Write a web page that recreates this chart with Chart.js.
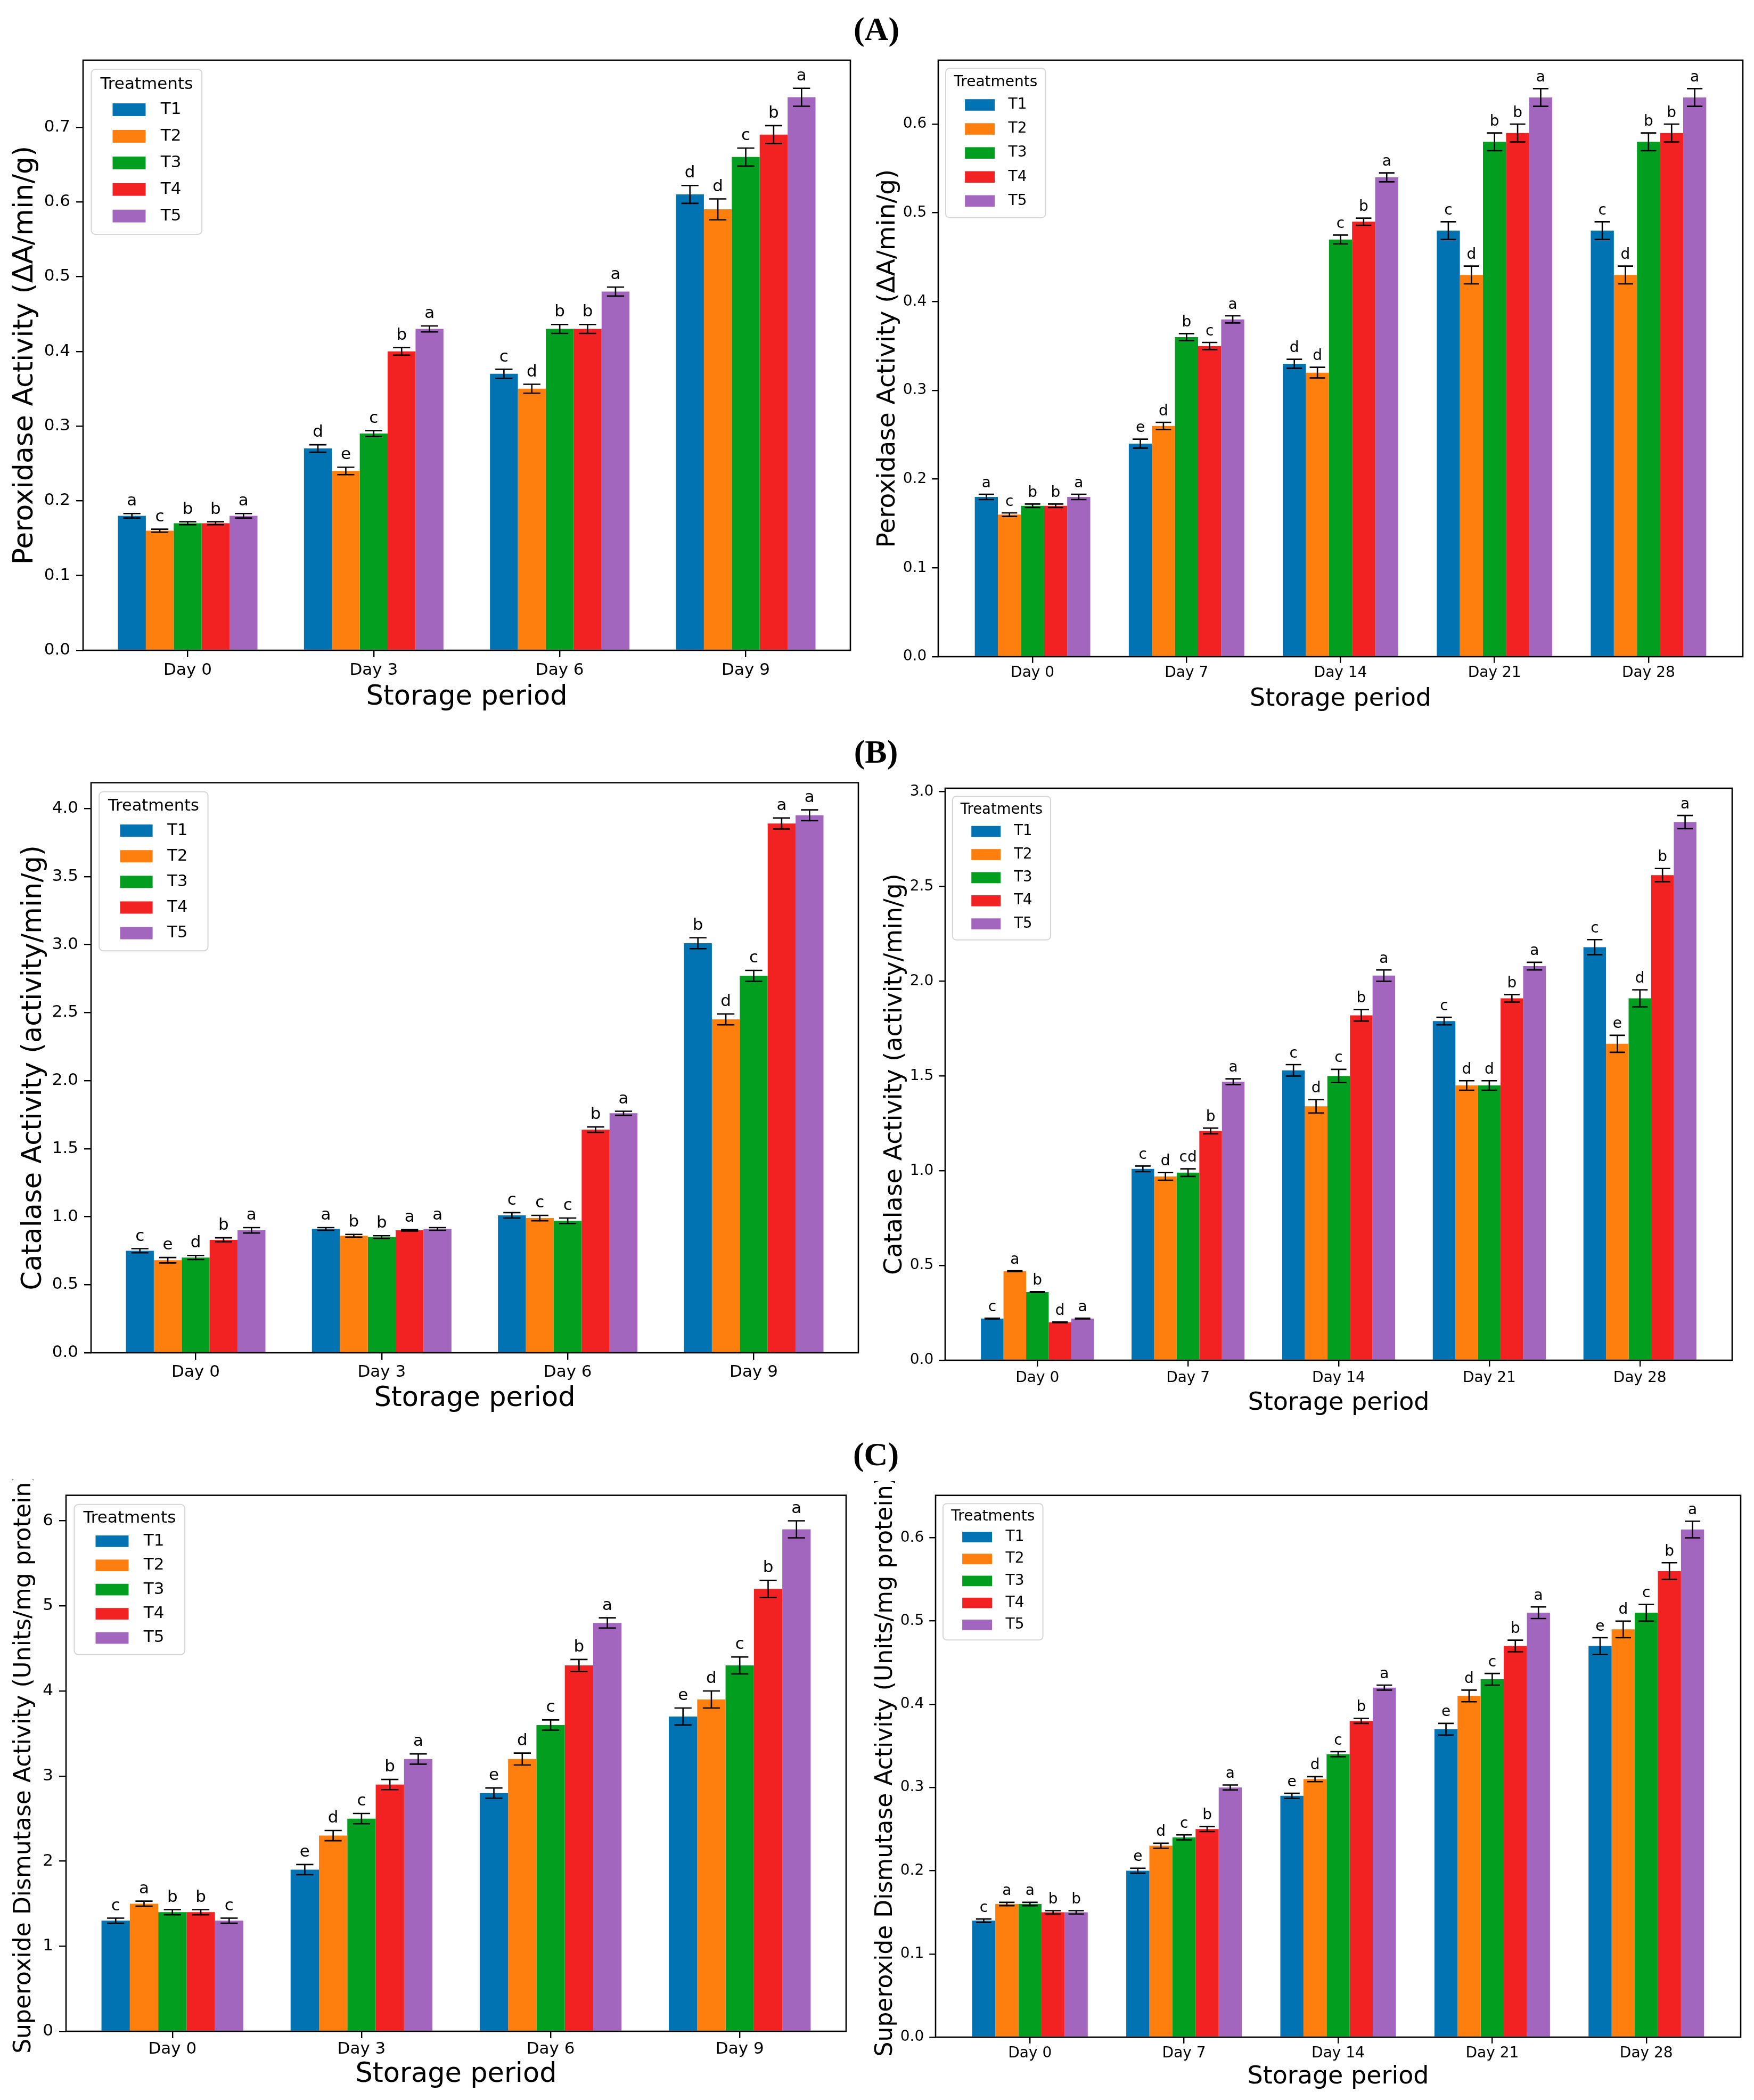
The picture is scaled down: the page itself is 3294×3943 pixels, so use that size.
<!DOCTYPE html>
<html>
<head>
<meta charset="utf-8">
<title>Enzyme activity during storage</title>
<script src="https://cdn.jsdelivr.net/npm/chart.js@4.4.1/dist/chart.umd.min.js"></script>
<style>
  html, body { margin: 0; padding: 0; background: #fff; }
  body { width: 3294px; height: 3943px; position: relative; overflow: hidden; }
  canvas { position: absolute; }
  .tag {
    position: absolute;
    font-family: "Liberation Serif", "Times New Roman", serif;
    font-weight: bold;
    font-size: 62px;
    line-height: 1;
    transform: translate(-50%, -50%);
  }
</style>
</head>
<body>
<div class="tag" style="left:1646px; top:54px">(A)</div>
<div class="tag" style="left:1645px; top:1411px">(B)</div>
<div class="tag" style="left:1645px; top:2730px">(C)</div>
<canvas id="podShort"></canvas>
<canvas id="podLong"></canvas>
<canvas id="catShort"></canvas>
<canvas id="catLong"></canvas>
<canvas id="sodShort"></canvas>
<canvas id="sodLong"></canvas>
<script>
  "use strict";

  const treatments = ["T1", "T2", "T3", "T4", "T5"];
  const colors = ["#0173b2", "#ff7f0e", "#029e1f", "#f22222", "#a266be"];

  const daysShort = ["Day 0", "Day 3", "Day 6", "Day 9"];
  const daysLong = ["Day 0", "Day 7", "Day 14", "Day 21", "Day 28"];

  // rows = T1..T5, columns = days

  // (A) peroxidase, short storage
  const podShortValues = [
    [0.18, 0.27, 0.37, 0.61],
    [0.16, 0.24, 0.35, 0.59],
    [0.17, 0.29, 0.43, 0.66],
    [0.17, 0.40, 0.43, 0.69],
    [0.18, 0.43, 0.48, 0.74],
  ];
  const podShortErrors = [
    [0.003, 0.005, 0.006, 0.012],
    [0.002, 0.005, 0.006, 0.014],
    [0.002, 0.004, 0.006, 0.012],
    [0.002, 0.005, 0.006, 0.012],
    [0.003, 0.004, 0.006, 0.012],
  ];
  const podShortLetters = [
    ["a", "d", "c", "d"],
    ["c", "e", "d", "d"],
    ["b", "c", "b", "c"],
    ["b", "b", "b", "b"],
    ["a", "a", "a", "a"],
  ];
  const podShortTicks = [0, 0.1, 0.2, 0.3, 0.4, 0.5, 0.6, 0.7];

  // (A) peroxidase, long storage
  const podLongValues = [
    [0.18, 0.24, 0.33, 0.48, 0.48],
    [0.16, 0.26, 0.32, 0.43, 0.43],
    [0.17, 0.36, 0.47, 0.58, 0.58],
    [0.17, 0.35, 0.49, 0.59, 0.59],
    [0.18, 0.38, 0.54, 0.63, 0.63],
  ];
  const podLongErrors = [
    [0.003, 0.005, 0.005, 0.01, 0.01],
    [0.002, 0.004, 0.006, 0.01, 0.01],
    [0.002, 0.004, 0.005, 0.01, 0.01],
    [0.002, 0.004, 0.004, 0.01, 0.01],
    [0.003, 0.004, 0.005, 0.01, 0.01],
  ];
  const podLongLetters = [
    ["a", "e", "d", "c", "c"],
    ["c", "d", "d", "d", "d"],
    ["b", "b", "c", "b", "b"],
    ["b", "c", "b", "b", "b"],
    ["a", "a", "a", "a", "a"],
  ];
  const podLongTicks = [0, 0.1, 0.2, 0.3, 0.4, 0.5, 0.6];

  // (B) catalase, short storage
  const catShortValues = [
    [0.75, 0.91, 1.01, 3.01],
    [0.68, 0.86, 0.99, 2.45],
    [0.70, 0.85, 0.97, 2.77],
    [0.83, 0.90, 1.64, 3.89],
    [0.90, 0.91, 1.76, 3.95],
  ];
  const catShortErrors = [
    [0.015, 0.01, 0.02, 0.04],
    [0.02, 0.01, 0.02, 0.04],
    [0.015, 0.01, 0.02, 0.04],
    [0.015, 0.005, 0.02, 0.04],
    [0.02, 0.01, 0.015, 0.04],
  ];
  const catShortLetters = [
    ["c", "a", "c", "b"],
    ["e", "b", "c", "d"],
    ["d", "b", "c", "c"],
    ["b", "a", "b", "a"],
    ["a", "a", "a", "a"],
  ];
  const catShortTicks = [0, 0.5, 1.0, 1.5, 2.0, 2.5, 3.0, 3.5, 4.0];

  // (B) catalase, long storage
  const catLongValues = [
    [0.22, 1.01, 1.53, 1.79, 2.18],
    [0.47, 0.97, 1.34, 1.45, 1.67],
    [0.36, 0.99, 1.50, 1.45, 1.91],
    [0.20, 1.21, 1.82, 1.91, 2.56],
    [0.22, 1.47, 2.03, 2.08, 2.84],
  ];
  const catLongErrors = [
    [0.002, 0.015, 0.03, 0.02, 0.04],
    [0.002, 0.02, 0.035, 0.025, 0.045],
    [0.002, 0.02, 0.035, 0.025, 0.045],
    [0.002, 0.015, 0.03, 0.02, 0.035],
    [0.002, 0.015, 0.03, 0.02, 0.035],
  ];
  const catLongLetters = [
    ["c", "c", "c", "c", "c"],
    ["a", "d", "d", "d", "e"],
    ["b", "cd", "c", "d", "d"],
    ["d", "b", "b", "b", "b"],
    ["a", "a", "a", "a", "a"],
  ];
  const catLongTicks = [0, 0.5, 1.0, 1.5, 2.0, 2.5, 3.0];

  // (C) superoxide dismutase, short storage
  const sodShortValues = [
    [1.3, 1.9, 2.8, 3.7],
    [1.5, 2.3, 3.2, 3.9],
    [1.4, 2.5, 3.6, 4.3],
    [1.4, 2.9, 4.3, 5.2],
    [1.3, 3.2, 4.8, 5.9],
  ];
  const sodShortErrors = [
    [0.03, 0.06, 0.06, 0.1],
    [0.03, 0.06, 0.07, 0.1],
    [0.03, 0.06, 0.06, 0.1],
    [0.03, 0.06, 0.07, 0.1],
    [0.03, 0.06, 0.06, 0.1],
  ];
  const sodShortLetters = [
    ["c", "e", "e", "e"],
    ["a", "d", "d", "d"],
    ["b", "c", "c", "c"],
    ["b", "b", "b", "b"],
    ["c", "a", "a", "a"],
  ];
  const sodShortTicks = [0, 1, 2, 3, 4, 5, 6];

  // (C) superoxide dismutase, long storage
  const sodLongValues = [
    [0.14, 0.20, 0.29, 0.37, 0.47],
    [0.16, 0.23, 0.31, 0.41, 0.49],
    [0.16, 0.24, 0.34, 0.43, 0.51],
    [0.15, 0.25, 0.38, 0.47, 0.56],
    [0.15, 0.30, 0.42, 0.51, 0.61],
  ];
  const sodLongErrors = [
    [0.002, 0.003, 0.003, 0.007, 0.01],
    [0.002, 0.003, 0.003, 0.007, 0.01],
    [0.002, 0.003, 0.003, 0.007, 0.01],
    [0.002, 0.003, 0.003, 0.007, 0.01],
    [0.002, 0.003, 0.003, 0.007, 0.01],
  ];
  const sodLongLetters = [
    ["c", "e", "e", "e", "e"],
    ["a", "d", "d", "d", "d"],
    ["a", "c", "c", "c", "c"],
    ["b", "b", "b", "b", "b"],
    ["b", "a", "a", "a", "a"],
  ];
  const sodLongTicks = [0, 0.1, 0.2, 0.3, 0.4, 0.5, 0.6];

  const FONT = '"DejaVu Sans", sans-serif';

  // error bars, significance letters, axes frame and the boxed legend
  const panelMarks = {
    id: "panelMarks",
    afterDatasetsDraw(chart, args, opts) {
      const ctx = chart.ctx;
      const yScale = chart.scales.y;
      const fs = opts.size;
      ctx.save();
      ctx.strokeStyle = "#000";
      ctx.fillStyle = "#000";
      ctx.lineWidth = 2.6;
      ctx.font = fs + "px " + FONT;
      ctx.textAlign = "center";
      ctx.textBaseline = "alphabetic";
      const cap = 0.52 * fs;

      chart.data.datasets.forEach((ds, d) => {
        const meta = chart.getDatasetMeta(d);
        meta.data.forEach((bar, i) => {
          const v = ds.data[i].y;
          const e = ds.errors[i];
          const top = yScale.getPixelForValue(v + e);
          const bot = yScale.getPixelForValue(v - e);
          ctx.beginPath();
          ctx.moveTo(bar.x, top);
          ctx.lineTo(bar.x, bot);
          ctx.moveTo(bar.x - cap, top);
          ctx.lineTo(bar.x + cap, top);
          ctx.moveTo(bar.x - cap, bot);
          ctx.lineTo(bar.x + cap, bot);
          ctx.stroke();
          ctx.fillText(ds.letters[i], bar.x, top - 0.48 * fs);
        });
      });

      const a = chart.chartArea;
      ctx.lineWidth = 2.6;
      ctx.strokeRect(a.left, a.top, a.right - a.left, a.bottom - a.top);

      // legend box, upper left
      const ls = opts.legSize;
      const vs = opts.legVs;
      const bx = a.left + 0.5 * ls;
      const by = a.top + 0.55 * ls;
      const bw = 6.7 * ls;
      const bh = 10 * ls * vs;
      ctx.beginPath();
      ctx.roundRect(bx, by, bw, bh, 0.25 * ls);
      ctx.fillStyle = "rgba(255,255,255,0.8)";
      ctx.fill();
      ctx.strokeStyle = "#d6d6d6";
      ctx.lineWidth = 2;
      ctx.stroke();

      ctx.font = ls + "px " + FONT;
      ctx.fillStyle = "#000";
      ctx.textBaseline = "middle";
      ctx.textAlign = "center";
      ctx.fillText("Treatments", bx + bw / 2, by + 0.94 * ls * vs);
      ctx.textAlign = "left";
      chart.data.datasets.forEach((ds, t) => {
        const cy = by + (2.45 + 1.61 * t) * ls * vs;
        ctx.fillStyle = ds.backgroundColor;
        ctx.fillRect(bx + 1.29 * ls, cy - 0.385 * ls * vs, 2 * ls, 0.77 * ls * vs);
        ctx.fillStyle = "#000";
        ctx.fillText(ds.label, bx + 4.2 * ls, cy);
      });
      ctx.restore();
    },
  };

  function drawPanel(id, cfg) {
    const canvas = document.getElementById(id);
    const wY = Math.round(cfg.yTitleOff + 0.6 * cfg.yTitleSize);
    const hX = Math.round(cfg.xTitleOff + 0.6 * cfg.xTitleSize);
    const padTop = cfg.T - cfg.top;
    const padRight = 24;
    canvas.width = cfg.R - cfg.L + wY + padRight;
    canvas.height = cfg.B - cfg.T + padTop + hX;
    canvas.style.left = cfg.L - wY + "px";
    canvas.style.top = cfg.top + "px";

    const n = cfg.days.length;
    const span = n - 1 + 0.75;
    const tops = cfg.values.flatMap((row, t) => row.map((v, i) => v + cfg.errors[t][i]));
    const ymax = Math.max(...tops) * 1.05;
    const tl = 0.42 * cfg.tickSize;

    new Chart(canvas, {
      type: "bar",
      data: {
        datasets: treatments.map((name, t) => ({
          label: name,
          data: cfg.values[t].map((v, i) => ({ x: i, y: v })),
          backgroundColor: colors[t],
          borderWidth: 0,
          categoryPercentage: 0.75,
          barPercentage: 1.0,
          errors: cfg.errors[t],
          letters: cfg.letters[t],
        })),
      },
      options: {
        responsive: false,
        animation: false,
        devicePixelRatio: 1,
        layout: { padding: { left: 0, right: padRight, top: padTop, bottom: 0 } },
        plugins: {
          legend: { display: false },
          tooltip: { enabled: false },
          panelMarks: { size: cfg.tickSize, legSize: cfg.legSize, legVs: cfg.legVs },
        },
        scales: {
          x: {
            type: "linear",
            offset: false,
            min: -0.375 - 0.05 * span,
            max: n - 1 + 0.375 + 0.05 * span,
            afterBuildTicks: (axis) => {
              axis.ticks = cfg.days.map((d, i) => ({ value: i }));
            },
            afterFit: (axis) => {
              axis.height = hX;
            },
            ticks: {
              callback: (v) => cfg.days[v],
              autoSkip: false,
              maxRotation: 0,
              color: "#000",
              padding: cfg.xLabOff - tl - 0.6 * cfg.tickSize,
              font: { family: FONT, size: cfg.tickSize },
            },
            grid: {
              drawOnChartArea: false,
              offset: false,
              tickColor: "#000",
              tickLength: tl,
              lineWidth: 2.4,
            },
            border: { display: false },
            title: {
              display: true,
              text: "Storage period",
              color: "#000",
              padding: 0,
              font: { family: FONT, size: cfg.xTitleSize },
            },
          },
          y: {
            min: 0,
            max: ymax,
            afterBuildTicks: (axis) => {
              axis.ticks = cfg.yTicks.map((v) => ({ value: v }));
            },
            afterFit: (axis) => {
              axis.width = wY;
            },
            ticks: {
              callback: (v) => v.toFixed(cfg.decimals),
              color: "#000",
              padding: 0.355 * cfg.tickSize,
              font: { family: FONT, size: cfg.tickSize },
            },
            grid: {
              drawOnChartArea: false,
              tickColor: "#000",
              tickLength: tl,
              lineWidth: 2.4,
            },
            border: { display: false },
            title: {
              display: true,
              text: cfg.yTitle,
              color: "#000",
              padding: 0,
              font: { family: FONT, size: cfg.yTitleSize },
            },
          },
        },
      },
      plugins: [panelMarks],
    });
  }

  drawPanel("podShort", {
    days: daysShort, values: podShortValues, errors: podShortErrors, letters: podShortLetters,
    yTicks: podShortTicks, decimals: 1, yTitle: "Peroxidase Activity (ΔA/min/g)",
    L: 156, R: 1597, T: 113, B: 1221, top: 73,
    yTitleOff: 109, yTitleSize: 52, tickSize: 31, xLabOff: 38, xTitleOff: 88, xTitleSize: 51,
    legSize: 31, legVs: 1,
  });

  drawPanel("podLong", {
    days: daysLong, values: podLongValues, errors: podLongErrors, letters: podLongLetters,
    yTicks: podLongTicks, decimals: 1, yTitle: "Peroxidase Activity (ΔA/min/g)",
    L: 1762, R: 3273, T: 113, B: 1233, top: 73,
    yTitleOff: 94, yTitleSize: 47, tickSize: 28, xLabOff: 31, xTitleOff: 80, xTitleSize: 46,
    legSize: 28, legVs: 1,
  });

  drawPanel("catShort", {
    days: daysShort, values: catShortValues, errors: catShortErrors, letters: catShortLetters,
    yTicks: catShortTicks, decimals: 1, yTitle: "Catalase Activity (activity/min/g)",
    L: 171, R: 1612, T: 1469, B: 2540, top: 1440,
    yTitleOff: 107, yTitleSize: 51, tickSize: 31, xLabOff: 37, xTitleOff: 86, xTitleSize: 51,
    legSize: 30.5, legVs: 0.98,
  });

  drawPanel("catLong", {
    days: daysLong, values: catLongValues, errors: catLongErrors, letters: catLongLetters,
    yTicks: catLongTicks, decimals: 1, yTitle: "Catalase Activity (activity/min/g)",
    L: 1775, R: 3253, T: 1480, B: 2554, top: 1448,
    yTitleOff: 94, yTitleSize: 46, tickSize: 28, xLabOff: 34, xTitleOff: 81, xTitleSize: 46,
    legSize: 27.5, legVs: 0.98,
  });

  drawPanel("sodShort", {
    days: daysShort, values: sodShortValues, errors: sodShortErrors, letters: sodShortLetters,
    yTicks: sodShortTicks, decimals: 0, yTitle: "Superoxide Dismutase Activity (Units/mg protein)",
    L: 124, R: 1589, T: 2801, B: 3814, top: 2778,
    yTitleOff: 79, yTitleSize: 44, tickSize: 31, xLabOff: 34, xTitleOff: 81, xTitleSize: 51,
    legSize: 31, legVs: 0.91,
  });

  drawPanel("sodLong", {
    days: daysLong, values: sodLongValues, errors: sodLongErrors, letters: sodLongLetters,
    yTicks: sodLongTicks, decimals: 1, yTitle: "Superoxide Dismutase Activity (Units/mg protein)",
    L: 1757, R: 3269, T: 2799, B: 3825, top: 2781,
    yTitleOff: 94, yTitleSize: 44, tickSize: 28, xLabOff: 31, xTitleOff: 75, xTitleSize: 46,
    legSize: 28, legVs: 0.915,
  });
</script>
</body>
</html>
